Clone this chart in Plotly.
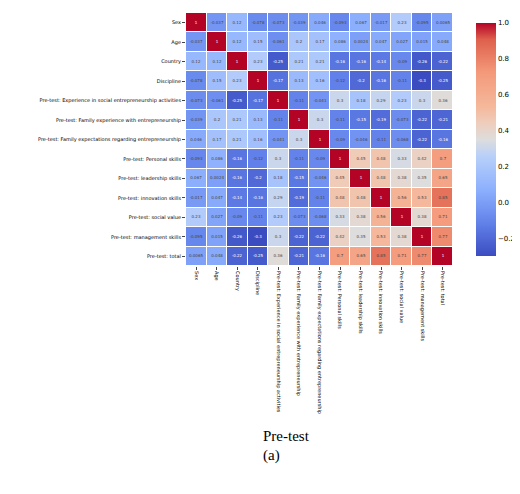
import plotly.graph_objects as go

labels = ["Sex", "Age", "Country", "Discipline",
          "Pre-test: Experience in social entrepreneurship activities",
          "Pre-test: Family experience with entrepreneurship",
          "Pre-test: Family expectations regarding entrepreneurship",
          "Pre-test: Personal skills", "Pre-test: leadership skills",
          "Pre-test: innovation skills", "Pre-test: social value",
          "Pre-test: management skills", "Pre-test: total"]

row_sex = [1, -0.037, 0.12, -0.078, -0.073, -0.039, 0.046, -0.093, 0.067, -0.017, 0.23, -0.095, 0.0065]
row_age = [-0.037, 1, 0.12, 0.15, -0.061, 0.2, 0.17, 0.086, 0.0024, 0.047, 0.027, 0.015, 0.048]
row_country = [0.12, 0.12, 1, 0.23, -0.25, 0.21, 0.21, -0.16, -0.16, -0.14, -0.09, -0.26, -0.22]
row_disc = [-0.078, 0.15, 0.23, 1, -0.17, 0.13, 0.16, -0.12, -0.2, -0.16, -0.11, -0.3, -0.25]
row_exp = [-0.073, -0.061, -0.25, -0.17, 1, -0.11, -0.041, 0.3, 0.18, 0.29, 0.23, 0.3, 0.36]
row_famexp = [-0.039, 0.2, 0.21, 0.13, -0.11, 1, 0.3, -0.11, -0.15, -0.19, -0.073, -0.22, -0.21]
row_famexpect = [0.046, 0.17, 0.21, 0.16, -0.041, 0.3, 1, -0.09, -0.046, -0.11, -0.068, -0.22, -0.16]
row_personal = [-0.093, 0.086, -0.16, -0.12, 0.3, -0.11, -0.09, 1, 0.45, 0.48, 0.33, 0.42, 0.7]
row_leader = [0.067, 0.0024, -0.16, -0.2, 0.18, -0.15, -0.046, 0.45, 1, 0.48, 0.38, 0.35, 0.65]
row_innov = [-0.017, 0.047, -0.14, -0.16, 0.29, -0.19, -0.11, 0.48, 0.48, 1, 0.56, 0.53, 0.85]
row_social = [0.23, 0.027, -0.09, -0.11, 0.23, -0.073, -0.068, 0.33, 0.38, 0.56, 1, 0.38, 0.71]
row_mgmt = [-0.095, 0.015, -0.26, -0.3, 0.3, -0.22, -0.22, 0.42, 0.35, 0.53, 0.38, 1, 0.77]
row_total = [0.0065, 0.048, -0.22, -0.25, 0.36, -0.21, -0.16, 0.7, 0.65, 0.85, 0.71, 0.77, 1]

z = [row_sex, row_age, row_country, row_disc, row_exp, row_famexp, row_famexpect,
     row_personal, row_leader, row_innov, row_social, row_mgmt, row_total]
text = [[("%.2g" % v) for v in row] for row in z]

coolwarm = [[0.0, "rgb(59,76,192)"], [0.143, "rgb(98,130,234)"], [0.286, "rgb(141,176,254)"],
            [0.429, "rgb(184,208,249)"], [0.5, "rgb(221,221,221)"], [0.571, "rgb(238,205,187)"],
            [0.643, "rgb(245,183,154)"], [0.786, "rgb(244,154,123)"], [0.929, "rgb(222,96,77)"],
            [1.0, "rgb(180,4,38)"]]

fig = go.Figure(go.Heatmap(
    z=z, x=labels, y=labels, zmin=-0.3, zmax=1.0, colorscale=coolwarm,
    text=text, xgap=1, ygap=1, texttemplate="%{text}", textfont=dict(size=4),
    colorbar=dict(x=1.05, xanchor="left", thickness=20, len=1.0, y=1, yanchor="top",
                  tickvals=[-0.2, 0, 0.2, 0.4, 0.6, 0.8, 1.0],
                  ticktext=["−0.2", "0.0", "0.2", "0.4", "0.6", "0.8", "1.0"],
                  tickfont=dict(size=7), outlinewidth=0)))

fig.update_xaxes(tickangle=90, tickfont=dict(size=5), showgrid=False, ticks="outside",
                 ticklen=3, automargin=False)
fig.update_yaxes(autorange="reversed", tickfont=dict(size=5), showgrid=False, ticks="outside",
                 ticklen=3, automargin=False)
fig.add_annotation(text="Pre-test", x=0.28, y=-0.71, xref="paper", yref="paper", showarrow=False,
                   font=dict(family="Liberation Serif", size=15, color="black"))
fig.add_annotation(text="(a)", x=0.28, y=-0.79, xref="paper", yref="paper", showarrow=False,
                   font=dict(family="Liberation Serif", size=15, color="black"))
fig.update_layout(width=520, height=494, margin=dict(l=178, r=45, t=5, b=236),
                  plot_bgcolor="white", paper_bgcolor="white",
                  font=dict(family="DejaVu Sans", color="black"))
fig.write_html("out.html")
